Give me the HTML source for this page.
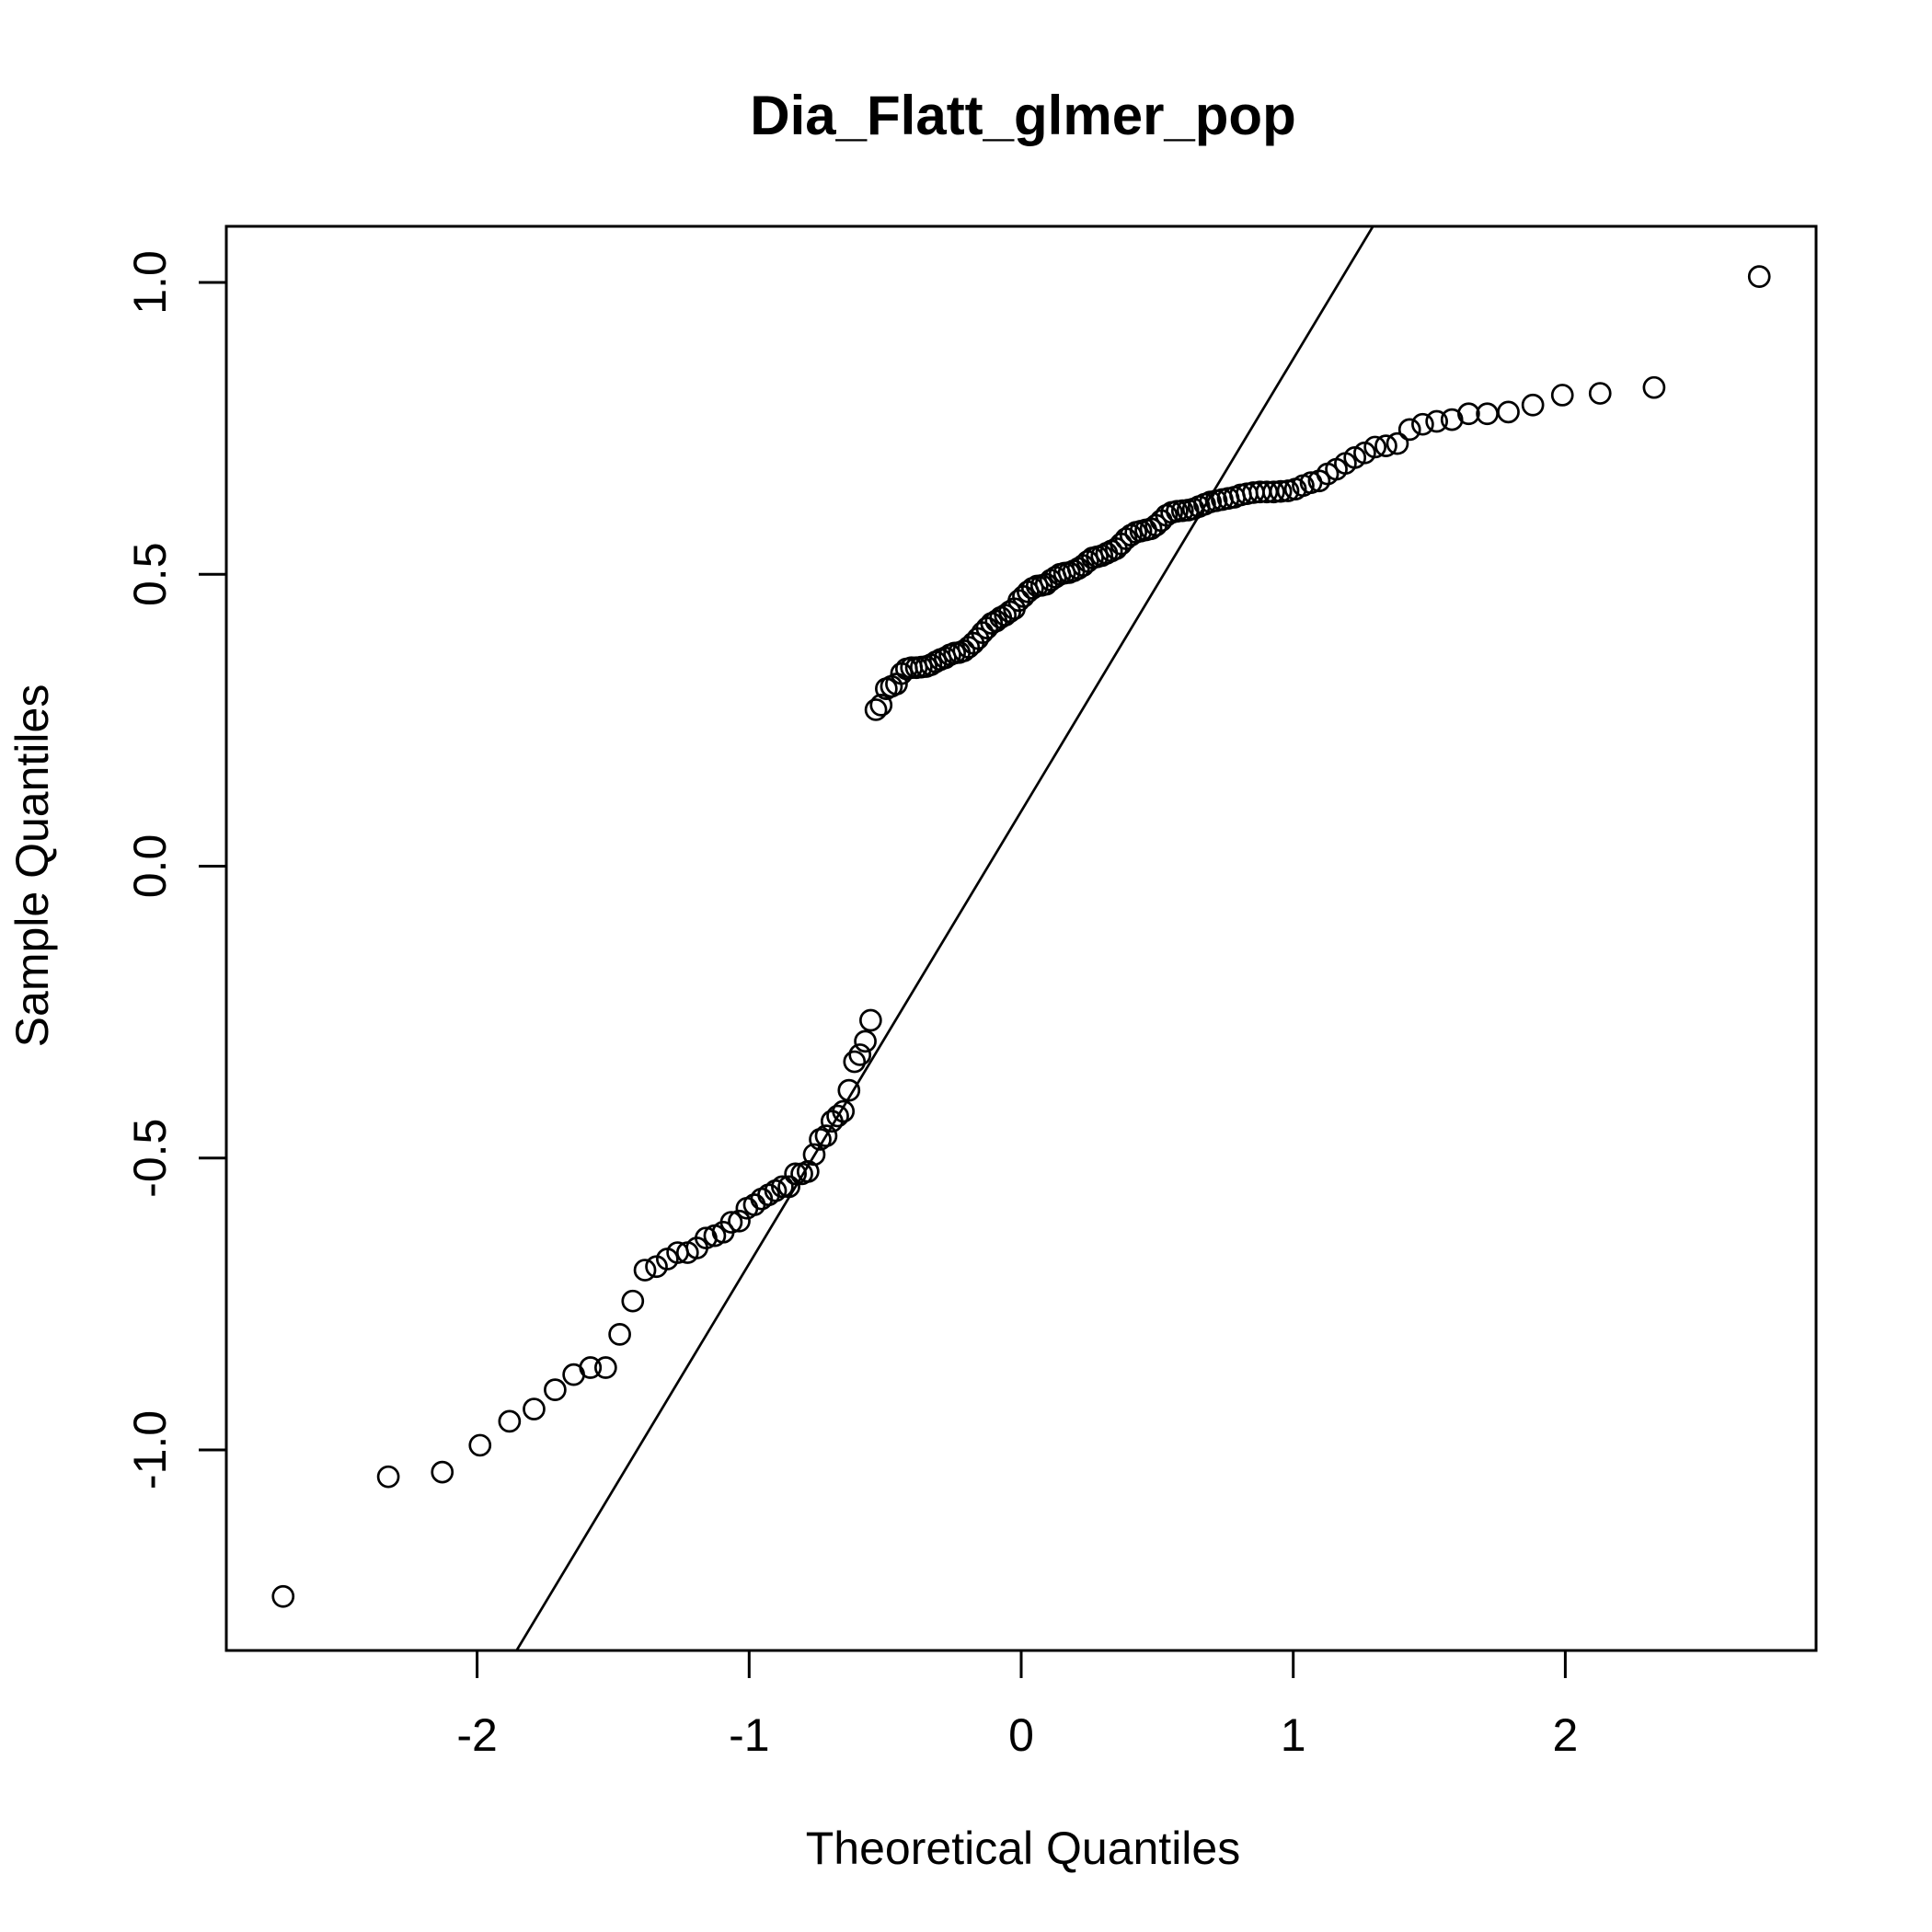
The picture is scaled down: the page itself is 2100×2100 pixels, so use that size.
<!DOCTYPE html>
<html><head><meta charset="utf-8"><style>
html,body{margin:0;padding:0;background:#fff;overflow:hidden;width:2100px;height:2100px;}
svg{display:block;}
text{font-family:"Liberation Sans",Arial,sans-serif;fill:#000;}
</style></head><body>
<svg id="chart" width="2100" height="2100" viewBox="0 0 2100 2100" xmlns="http://www.w3.org/2000/svg">
<text x="1112" y="146" font-size="60" font-weight="bold" text-anchor="middle">Dia_Flatt_glmer_pop</text>
<text x="1112" y="2026" font-size="50" text-anchor="middle">Theoretical Quantiles</text>
<text transform="translate(52,941) rotate(-90)" font-size="50" text-anchor="middle">Sample Quantiles</text>
<rect x="246" y="246" width="1728" height="1548" fill="none" stroke="#000" stroke-width="3"/>
<g id="axes"></g>
<g id="marks"></g>
</svg>
<script>
const xTicks = [-2, -1, 0, 1, 2];
const yTicks = [-1.0, -0.5, 0.0, 0.5, 1.0];
const yTickLabels = ["-1.0", "-0.5", "0.0", "0.5", "1.0"];
const lowerSample = [-1.251,-1.046,-1.038,-0.992,-0.951,-0.930,-0.897,-0.871,-0.859,-0.859,
-0.802,-0.745,-0.692,-0.686,-0.673,-0.662,-0.662,-0.654,-0.637,-0.633,
-0.627,-0.610,-0.608,-0.586,-0.580,-0.570,-0.563,-0.556,-0.549,-0.549,
-0.527,-0.527,-0.523,-0.494,-0.468,-0.462,-0.437,-0.428,-0.420,-0.384,
-0.335,-0.323,-0.300,-0.264];
const upperSample = [0.268,0.276,0.304,0.308,0.312,0.330,0.338,0.340,0.340,0.341,
0.342,0.345,0.350,0.354,0.357,0.362,0.365,0.366,0.369,0.375,
0.382,0.390,0.400,0.408,0.416,0.420,0.426,0.430,0.436,0.441,
0.455,0.462,0.470,0.476,0.480,0.481,0.483,0.490,0.495,0.500,
0.502,0.503,0.506,0.510,0.515,0.522,0.528,0.530,0.532,0.536,
0.540,0.544,0.552,0.561,0.567,0.572,0.574,0.576,0.578,0.584,
0.592,0.601,0.606,0.608,0.609,0.610,0.612,0.616,0.620,0.624,
0.626,0.628,0.630,0.632,0.636,0.638,0.640,0.641,0.641,0.641,
0.642,0.643,0.646,0.652,
0.657,0.660,0.672,0.680,0.690,0.700,0.708,0.718,0.720,0.724,0.748,0.757,0.762,0.765,0.775,0.775,0.778,0.790,0.807,0.810,0.820,1.010];
const lineIntercept = 0.094;
const lineSlope = 0.775;

const NS = "http://www.w3.org/2000/svg";
const X0 = 1110, XU = 295.7, Y0 = 941.5, YU = 634.5;
const box = {l:246, r:1974, t:246, b:1794};
function sx(v){ return X0 + v*XU; }
function sy(v){ return Y0 - v*YU; }
function mk(tag, attrs, parent){
  const e = document.createElementNS(NS, tag);
  for (const k in attrs) e.setAttribute(k, attrs[k]);
  parent.appendChild(e);
  return e;
}
function qnorm(p){
  const a=[-39.69683028665376,220.9460984245205,-275.9285104469687,138.3577518672690,-30.66479806614716,2.506628277459239];
  const b=[-54.47609879822406,161.5858368580409,-155.6989798598866,66.80131188771972,-13.28068155288572];
  const c=[-0.007784894002430293,-0.3223964580411365,-2.400758277161838,-2.549732539343734,4.374664141464968,2.938163982698783];
  const d=[0.007784695709041462,0.3224671290700398,2.445134137142996,3.754408661907416];
  const pl=0.02425;
  let q,r;
  if(p<pl){q=Math.sqrt(-2*Math.log(p));return (((((c[0]*q+c[1])*q+c[2])*q+c[3])*q+c[4])*q+c[5])/((((d[0]*q+d[1])*q+d[2])*q+d[3])*q+1);}
  if(p>1-pl){q=Math.sqrt(-2*Math.log(1-p));return -(((((c[0]*q+c[1])*q+c[2])*q+c[3])*q+c[4])*q+c[5])/((((d[0]*q+d[1])*q+d[2])*q+d[3])*q+1);}
  q=p-0.5;r=q*q;
  return (((((a[0]*r+a[1])*r+a[2])*r+a[3])*r+a[4])*r+a[5])*q/(((((b[0]*r+b[1])*r+b[2])*r+b[3])*r+b[4])*r+1);
}
const axes = document.getElementById('axes');
xTicks.forEach(function(t){
  const ln = mk('line',{x1:sx(t),x2:sx(t),y1:box.b,y2:box.b+30,stroke:'#000','stroke-width':3},axes);
  
  
  const tx = mk('text',{x:sx(t),y:1903,'font-size':50,'text-anchor':'middle'},axes);
  tx.textContent = String(t);
  
  
});
yTicks.forEach(function(t,i){
  const ln = mk('line',{x1:box.l-30,x2:box.l,y1:sy(t),y2:sy(t),stroke:'#000','stroke-width':3},axes);
  
  
  const tx = mk('text',{transform:'translate(180,'+sy(t)+') rotate(-90)','font-size':50,'text-anchor':'middle'},axes);
  tx.textContent = yTickLabels[i];
  
  
});
const marks = document.getElementById('marks');
const sample = lowerSample.concat(upperSample).slice().sort(function(a,b){return a-b;});
const n = sample.length;
const cp = mk('clipPath',{id:'clip'},marks);
mk('rect',{x:box.l,y:box.t,width:box.r-box.l,height:box.b-box.t},cp);
const xa = -3.5, xb = 3.5;
const ref = mk('line',{x1:sx(xa),y1:sy(lineIntercept+lineSlope*xa),x2:sx(xb),y2:sy(lineIntercept+lineSlope*xb),stroke:'#000','stroke-width':2.7,'clip-path':'url(#clip)'},marks);


sample.forEach(function(v,i){
  const tq = qnorm((i+0.5)/n);
  const c = mk('circle',{cx:sx(tq),cy:sy(v),r:11,fill:'none',stroke:'#000','stroke-width':2.7},marks);
  
  
});
</script>
</body></html>
